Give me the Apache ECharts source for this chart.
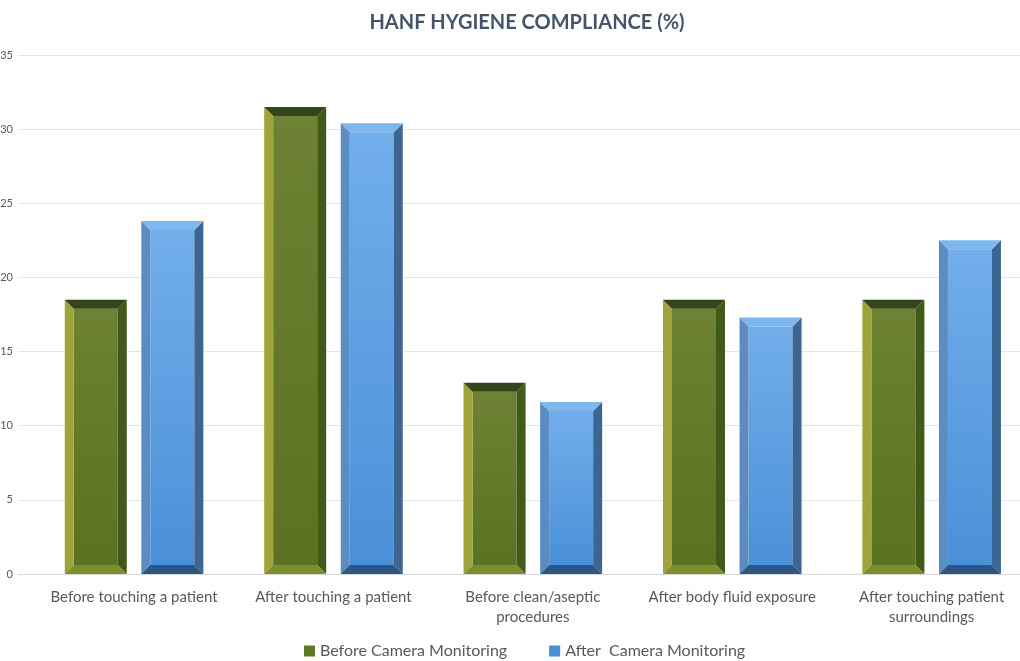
<!DOCTYPE html>
<html>
<head>
<meta charset="utf-8">
<script src="https://cdn.jsdelivr.net/npm/echarts@6/dist/echarts.min.js"></script>
<style>
    html, body { margin: 0; padding: 0; background: #fff; }
    #chart { width: 1020px; height: 661px; }
</style>
</head>
<body>
<div id="chart"></div>
<script>
var categories = [
    "Before touching a patient",
    "After touching a patient",
    "Before clean/aseptic\nprocedures",
    "After body fluid exposure",
    "After touching patient\nsurroundings"
];
var beforeValues = [18.5, 31.5, 12.9, 18.5, 18.5];
var afterValues = [23.8, 30.4, 11.6, 17.3, 22.5];
var seriesNames = ["Before Camera Monitoring", "After  Camera Monitoring"];

// colours of the bevelled faces: front top/bottom, left, right, top, bottom
var greenBevel = {
    frontTop: "#6e8134", frontBottom: "#5a7221",
    left: "#9ea33a", right: "#405b19", top: "#33461a", bottom: "#7d8e2c"
};
var blueBevel = {
    frontTop: "#72aeea", frontBottom: "#4a90d8",
    left: "#5b8cc2", right: "#3c6591", top: "#7db7ef", bottom: "#2d5682"
};

function bevelBar(side, pal) {
    return function (params, api) {
        var ci = api.value(0);
        var v = api.value(1);
        var top = api.coord([ci, v]);
        var base = api.coord([ci, 0]);
        var cw = api.size([1, 0])[0];
        var w = cw * 0.311;
        var gap = cw * 0.073;
        var cx = top[0] + side * (w / 2 + gap / 2);
        var x0 = cx - w / 2, x1 = cx + w / 2;
        var y0 = top[1], y1 = base[1];
        var b = 9;
        return {
            type: "group",
            children: [
                {
                    type: "rect",
                    shape: { x: x0 + b, y: y0 + b, width: w - 2 * b, height: y1 - y0 - 2 * b },
                    style: {
                        fill: new echarts.graphic.LinearGradient(0, 0, 0, 1, [
                            { offset: 0, color: pal.frontTop },
                            { offset: 1, color: pal.frontBottom }
                        ])
                    }
                },
                {
                    type: "polygon",
                    shape: { points: [[x0, y0], [x0 + b, y0 + b], [x0 + b, y1 - b], [x0, y1]] },
                    style: { fill: pal.left }
                },
                {
                    type: "polygon",
                    shape: { points: [[x1, y0], [x1, y1], [x1 - b, y1 - b], [x1 - b, y0 + b]] },
                    style: { fill: pal.right }
                },
                {
                    type: "polygon",
                    shape: { points: [[x0, y0], [x1, y0], [x1 - b, y0 + b], [x0 + b, y0 + b]] },
                    style: { fill: pal.top }
                },
                {
                    type: "polygon",
                    shape: { points: [[x0, y1], [x0 + b, y1 - b], [x1 - b, y1 - b], [x1, y1]] },
                    style: { fill: pal.bottom }
                }
            ]
        };
    };
}

var chart = echarts.init(document.getElementById("chart"));
chart.setOption({
    backgroundColor: "#ffffff",
    textStyle: { fontFamily: "Lato" },
    title: {
        text: "HANF HYGIENE COMPLIANCE (%)",
        left: 522,
        textAlign: "center",
        top: 8,
        textStyle: { fontFamily: "Lato", fontSize: 20, fontWeight: "bold", color: "#44546a" }
    },
    legend: {
        top: 638,
        left: 299,
        itemGap: 42,
        itemWidth: 11,
        itemHeight: 11,
        icon: "rect",
        textStyle: { fontFamily: "Lato", fontSize: 16, color: "#595959" },
        data: seriesNames
    },
    grid: { left: 18, right: 0, top: 55, bottom: 87, outerBoundsMode: "none" },
    // the plot area runs past the right edge of the picture, so the category
    // slots are laid on a value axis whose range is wider than 0..4
    xAxis: {
        type: "value", min: -0.582, max: 4.443, splitNumber: 5, minInterval: 1,
        axisLine: { show: true, lineStyle: { color: "#d9d9d9", width: 1 } },
        axisTick: { show: false }, splitLine: { show: false },
        axisLabel: {
            showMinLabel: false, showMaxLabel: false,
            color: "#595959", fontSize: 15, fontFamily: "Lato", margin: 13, lineHeight: 20,
            formatter: function (v) {
                return (Math.round(v) === v && categories[v]) ? categories[v] : "";
            }
        }
    },
    yAxis: {
        type: "value", min: 0, max: 35, interval: 5,
        axisLine: { show: false }, axisTick: { show: false },
        axisLabel: { color: "#595959", fontSize: 11, fontFamily: "Lato", margin: 5 },
        splitLine: { lineStyle: { color: "#e3e6ec", width: 1 } }
    },
    series: [
        {
            name: seriesNames[0],
            type: "custom",
            renderItem: bevelBar(-1, greenBevel),
            itemStyle: { color: "#5f7a24" },
            encode: { x: 0, y: 1 },
            data: beforeValues.map(function (v, i) { return [i, v]; })
        },
        {
            name: seriesNames[1],
            type: "custom",
            renderItem: bevelBar(1, blueBevel),
            itemStyle: { color: "#4a90d8" },
            encode: { x: 0, y: 1 },
            data: afterValues.map(function (v, i) { return [i, v]; })
        }
    ]
});
</script>
</body>
</html>
